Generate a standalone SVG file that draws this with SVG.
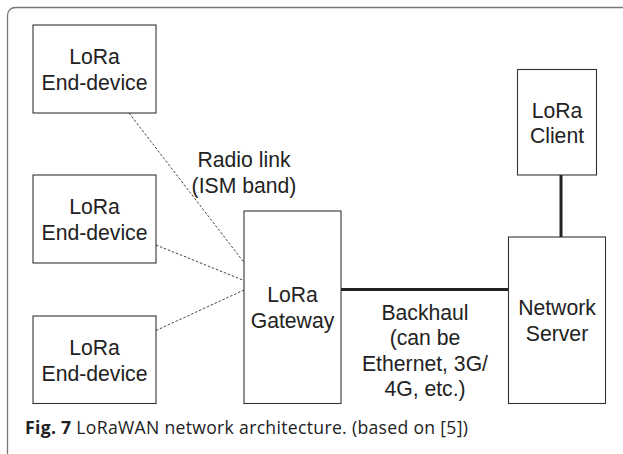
<svg xmlns="http://www.w3.org/2000/svg" width="623" height="454" viewBox="0 0 623 454">
<style>
.box{fill:#fff;stroke:#333;stroke-width:1.1}
.t{font-family:"Liberation Sans",Arial,sans-serif;font-size:21.2px;fill:#222;text-anchor:middle}
.radio{stroke:#444;stroke-width:1;stroke-dasharray:2.5 1.8;fill:none}
.thick{stroke:#222;stroke-width:3;fill:none}
.cap{font-family:"Open Sans","Noto Sans",sans-serif;font-size:17.6px;fill:#222}
</style>
<rect width="623" height="454" fill="#fff"/>
<path d="M7.5,454 V16 Q7.5,7.5 16,7.5 H623" fill="none" stroke="#777" stroke-width="1.3"/>
<g id="connectors">
<line class="radio" x1="129" y1="113" x2="244" y2="262.5"/>
<line class="radio" x1="156" y1="245" x2="244" y2="280.5"/>
<line class="radio" x1="156" y1="330.5" x2="244" y2="290"/>
<line class="thick" x1="341" y1="289.5" x2="508" y2="289.5"/>
<line class="thick" x1="561" y1="175" x2="561" y2="237"/>
</g>
<g id="ed1"><rect class="box" x="33" y="25" width="123" height="88"/><text class="t" x="94.5" y="64">LoRa</text><text class="t" x="94.5" y="90">End-device</text></g>
<g id="ed2"><rect class="box" x="33" y="175" width="123" height="88"/><text class="t" x="94.5" y="214">LoRa</text><text class="t" x="94.5" y="240">End-device</text></g>
<g id="ed3"><rect class="box" x="33" y="316" width="123" height="87.5"/><text class="t" x="94.5" y="355">LoRa</text><text class="t" x="94.5" y="381">End-device</text></g>
<g id="gateway"><rect class="box" x="244" y="211" width="97" height="192.5"/><text class="t" x="292.5" y="302">LoRa</text><text class="t" x="292.5" y="328">Gateway</text></g>
<g id="client"><rect class="box" x="517.5" y="69.5" width="79" height="105.5"/><text class="t" x="557" y="117.5">LoRa</text><text class="t" x="557" y="143">Client</text></g>
<g id="server"><rect class="box" x="508.5" y="237" width="97" height="166.5"/><text class="t" x="557" y="315">Network</text><text class="t" x="557" y="340.5">Server</text></g>
<g id="radio-label"><text class="t" x="244" y="167">Radio link</text><text class="t" x="244" y="193">(ISM band)</text></g>
<g id="backhaul-label"><text class="t" x="425" y="320">Backhaul</text><text class="t" x="425" y="345">(can be</text><text class="t" x="425" y="370.5">Ethernet, 3G/</text><text class="t" x="425" y="395.5">4G, etc.)</text></g>
<text class="cap" x="25" y="434" textLength="443" lengthAdjust="spacing"><tspan font-weight="bold">Fig. 7</tspan> LoRaWAN network architecture. (based on [5])</text>
</svg>
